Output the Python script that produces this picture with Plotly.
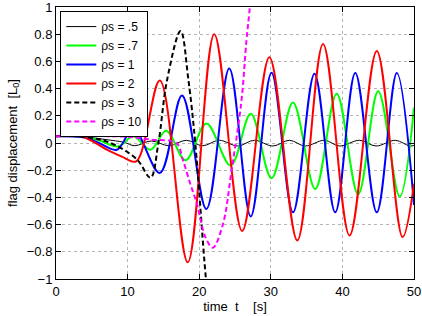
import plotly.graph_objects as go

# rho_s = .5 (black solid)
t_05 = [0, 4, 7, 9.5, 11.0, 13.3, 15.8, 18.2, 20.5, 22.8, 25.4, 27.7, 30.3, 32.6, 34.8, 37.5, 39.6, 42.4, 44.7, 47.4, 49.4, 50]
v_05 = [0.05, 0.045, 0.025, 0.005, -0.02, 0.015, -0.02, 0.02, -0.02, 0.02, -0.022, 0.02, -0.022, 0.02, -0.022, 0.02, -0.022, 0.02, -0.022, 0.02, -0.022, -0.018]

# rho_s = .7 (green)
t_07 = [0, 4, 6, 8.7, 10.8, 13.2, 15.4, 18.1, 21.0, 24.4, 27.2, 30.1, 33.1, 36.2, 39.2, 42.2, 45.0, 48.0, 50]
v_07 = [0.05, 0.045, 0.02, -0.025, 0.05, -0.05, 0.09, -0.127, 0.143, -0.165, 0.215, -0.26, 0.297, -0.338, 0.363, -0.377, 0.38, -0.394, 0.26]

# rho_s = 1 (blue)
t_1 = [0, 4, 6, 8.5, 10.8, 14.5, 17.6, 21.0, 24.2, 27.2, 30.1, 33.1, 36.1, 39.0, 41.8, 44.8, 47.6, 50]
v_1 = [0.05, 0.04, 0.0, -0.05, 0.105, -0.22, 0.35, -0.485, 0.547, -0.54, 0.517, -0.51, 0.51, -0.51, 0.515, -0.51, 0.515, -0.456]

# rho_s = 2 (red)
t_2 = [0, 3.5, 7.3, 9.2, 11.2, 14.5, 18.4, 22.1, 26.0, 29.8, 33.7, 37.3, 41.0, 44.8, 48.4, 50]
v_2 = [0.05, 0.05, -0.054, -0.1, -0.135, 0.46, -0.877, 0.80, -0.647, 0.63, -0.716, 0.728, -0.68, 0.677, -0.692, -0.3]

# rho_s = 3 (black dashed)
t_3 = [0, 4, 7.6, 11.3, 13.2, 14.3, 15.5, 17.4, 18.5, 19.45, 20.7, 21.6]
v_3 = [0.05, 0.045, 0.0, -0.12, -0.255, 0.0, 0.46, 0.824, 0.46, 0.0, -0.85, -1.4]

# rho_s = 10 (magenta dashed)
t_10 = [0, 8, 10.4, 13.2, 16.8, 17.7, 18.75, 19.7, 20.85, 21.9, 23.3, 24.5, 25.9, 26.6, 27.0, 27.4]
v_10 = [0.05, 0.05, 0.044, 0.025, 0.0, -0.12, -0.3, -0.45, -0.69, -0.77, -0.6, -0.21, 0.31, 0.755, 0.96, 1.2]

series = [
    ("ρs = .5", t_05, v_05, "black", 1, "solid"),
    ("ρs = .7", t_07, v_07, "#00ff00", 2, "solid"),
    ("ρs = 1", t_1, v_1, "#0000ff", 2, "solid"),
    ("ρs = 2", t_2, v_2, "#ff0000", 2, "solid"),
    ("ρs = 3", t_3, v_3, "black", 2, "5px,3px"),
    ("ρs = 10", t_10, v_10, "#ff00ff", 2, "5px,3px"),
]

fig = go.Figure()
for name, t, v, col, w, dash in series:
    fig.add_trace(go.Scatter(x=t, y=v, name=name, mode="lines",
                             line=dict(color=col, width=w, dash=dash, shape="spline", smoothing=1)))

font = "Liberation Sans, Arial, Helvetica, sans-serif"
axis_common = dict(showline=True, linecolor="black", linewidth=1, mirror="ticks",
                   ticks="inside", ticklen=5, tickcolor="black", automargin=False,
                   ticklabeloverflow="allow",
                   showgrid=True, gridcolor="#b4b4b4", griddash="dot", gridwidth=1,
                   zeroline=False, tickfont=dict(size=13, color="black", family=font))

fig.update_layout(
    width=422, height=316,
    margin=dict(l=56, r=8, t=7, b=37),
    plot_bgcolor="white", paper_bgcolor="white",
    font=dict(family=font, color="black", size=13),
    xaxis=dict(range=[0, 50], tickvals=[0, 10, 20, 30, 40, 50],
               title=dict(text="time  t    [s]", font=dict(size=13), standoff=1), **axis_common),
    yaxis=dict(range=[-1, 1], tickvals=[-1, -0.8, -0.6, -0.4, -0.2, 0, 0.2, 0.4, 0.6, 0.8, 1],
               title=dict(text="flag displacement  [L<sub>0</sub>]", font=dict(size=13), standoff=6), **axis_common),
    legend=dict(x=0.012, y=0.985, xanchor="left", yanchor="top",
                bgcolor="white", bordercolor="black", borderwidth=1,
                font=dict(size=12, family=font), tracegroupgap=0, itemwidth=30),
    showlegend=True,
)

fig.write_html("out.html", config={"displayModeBar": False},
               post_script="document.body.style.margin='0';document.body.style.padding='0';")
